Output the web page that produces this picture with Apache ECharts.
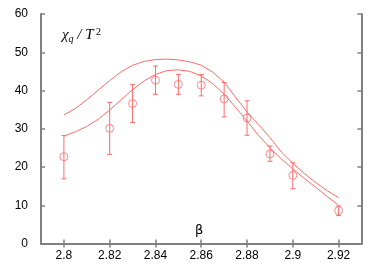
<!DOCTYPE html>
<html>
<head>
<meta charset="utf-8">
<script src="https://cdn.jsdelivr.net/npm/echarts@6/dist/echarts.min.js"></script>
<style>html,body{margin:0;padding:0;background:#fff}#c{width:382px;height:267px}</style>
</head>
<body>
<div id="c"></div>
<script>
// Data points with error bars
const beta = [2.80, 2.82, 2.83, 2.84, 2.85, 2.86, 2.87, 2.88, 2.89, 2.90, 2.92];
const chi = [22.7, 30.1, 36.6, 42.7, 41.6, 41.4, 37.8, 32.8, 23.4, 17.8, 8.6];
const chiLow = [16.9, 23.3, 31.6, 39.0, 39.0, 38.6, 33.1, 28.3, 21.5, 14.3, 7.3];
const chiHigh = [28.2, 36.9, 41.6, 46.4, 44.2, 44.2, 42.1, 37.3, 25.5, 21.1, 9.8];

// Curves
const curveBeta = [2.800, 2.805, 2.810, 2.815, 2.820, 2.825, 2.830, 2.835, 2.840, 2.845, 2.850, 2.855, 2.860,
                   2.865, 2.870, 2.875, 2.880, 2.885, 2.890, 2.895, 2.900, 2.905, 2.910, 2.915, 2.920];
const upperCurve = [33.6, 35.3, 37.6, 40.1, 42.6, 44.9, 46.6, 47.6, 48.1, 48.2, 48.0, 47.5, 46.6,
                    44.8, 42.2, 38.2, 34.4, 31.1, 27.7, 23.9, 21.0, 18.3, 15.9, 13.8, 12.0];
const lowerCurve = [28.1, 29.2, 30.6, 32.5, 34.9, 37.6, 40.2, 42.5, 44.2, 45.2, 45.4, 45.0, 43.8,
                    41.8, 39.0, 35.6, 32.0, 28.3, 25.0, 22.1, 19.5, 17.0, 14.7, 12.3, 10.0];

// Tick labels
const xTicks = [2.80, 2.82, 2.84, 2.86, 2.88, 2.90, 2.92];
const yTicks = [0, 10, 20, 30, 40, 50, 60];

const red = '#ff6a6a';
const frame = '#808080';

const chart = echarts.init(document.getElementById('c'));

const axisCommon = {
  axisLine: {show: true, lineStyle: {color: frame, width: 2}},
  axisTick: {show: true, inside: true, length: 4, lineStyle: {color: frame, width: 1.5}},
  splitLine: {show: false}
};

chart.setOption({
  animation: false,
  grid: {left: 41, right: 20.5, top: 14, bottom: 23.5},
  xAxis: [
    Object.assign({}, axisCommon, {
      type: 'value', min: 2.79, max: 2.93, position: 'bottom',
      axisTick: Object.assign({}, axisCommon.axisTick, {customValues: xTicks}),
      axisLabel: {customValues: xTicks, color: '#000', fontFamily: 'Liberation Sans', fontSize: 12, margin: 6,
                  formatter: v => String(+v.toFixed(2))}
    }),
    Object.assign({}, axisCommon, {
      type: 'value', min: 2.79, max: 2.93, position: 'top',
      axisTick: Object.assign({}, axisCommon.axisTick, {customValues: xTicks}),
      axisLabel: {show: false}
    })
  ],
  yAxis: [
    Object.assign({}, axisCommon, {
      type: 'value', min: 0, max: 60, interval: 10, position: 'left',
      axisLabel: {customValues: yTicks, color: '#000', fontFamily: 'Liberation Sans', fontSize: 12, margin: 13}
    }),
    Object.assign({}, axisCommon, {
      type: 'value', min: 0, max: 60, interval: 10, position: 'right',
      axisLabel: {show: false}
    })
  ],
  graphic: [
    {type: 'text', left: 62, top: 27, style: {
      rich: {
        a: {fontFamily: 'Liberation Serif', fontStyle: 'italic', fontSize: 15, fill: '#000'},
        s: {fontFamily: 'Liberation Serif', fontStyle: 'italic', fontSize: 10, fill: '#000', verticalAlign: 'bottom', padding: [7, 0, 0, 0]},
        p: {fontFamily: 'Liberation Serif', fontSize: 10, fill: '#000', verticalAlign: 'top', padding: [0, 0, 7, 0]}
      },
      text: '{a|χ}{s|q}{a| / T}{p| 2}'
    }},
    {type: 'text', left: 195, top: 224, style: {text: 'β', fontFamily: 'DejaVu Sans', fontSize: 13, fill: '#000'}}
  ],
  series: [
    {
      type: 'line', xAxisIndex: 0, yAxisIndex: 0, showSymbol: false, silent: true,
      lineStyle: {color: red, width: 1},
      data: curveBeta.map((b, i) => [b, upperCurve[i]])
    },
    {
      type: 'line', xAxisIndex: 0, yAxisIndex: 0, showSymbol: false, silent: true,
      lineStyle: {color: red, width: 1},
      data: curveBeta.map((b, i) => [b, lowerCurve[i]])
    },
    {
      type: 'custom', xAxisIndex: 0, yAxisIndex: 0, silent: true,
      data: beta.map((b, i) => [b, chiLow[i], chiHigh[i]]),
      renderItem: function (params, api) {
        const lo = api.coord([api.value(0), api.value(1)]);
        const hi = api.coord([api.value(0), api.value(2)]);
        const w = 2.5;
        const st = {stroke: red, lineWidth: 1};
        return {type: 'group', children: [
          {type: 'line', shape: {x1: lo[0], y1: lo[1], x2: hi[0], y2: hi[1]}, style: st},
          {type: 'line', shape: {x1: lo[0] - w, y1: lo[1], x2: lo[0] + w, y2: lo[1]}, style: st},
          {type: 'line', shape: {x1: hi[0] - w, y1: hi[1], x2: hi[0] + w, y2: hi[1]}, style: st}
        ]};
      }
    },
    {
      type: 'scatter', xAxisIndex: 0, yAxisIndex: 0, silent: true,
      symbol: 'circle', symbolSize: 8,
      itemStyle: {color: 'transparent', borderColor: red, borderWidth: 1},
      data: beta.map((b, i) => [b, chi[i]])
    }
  ]
});
</script>
</body>
</html>
